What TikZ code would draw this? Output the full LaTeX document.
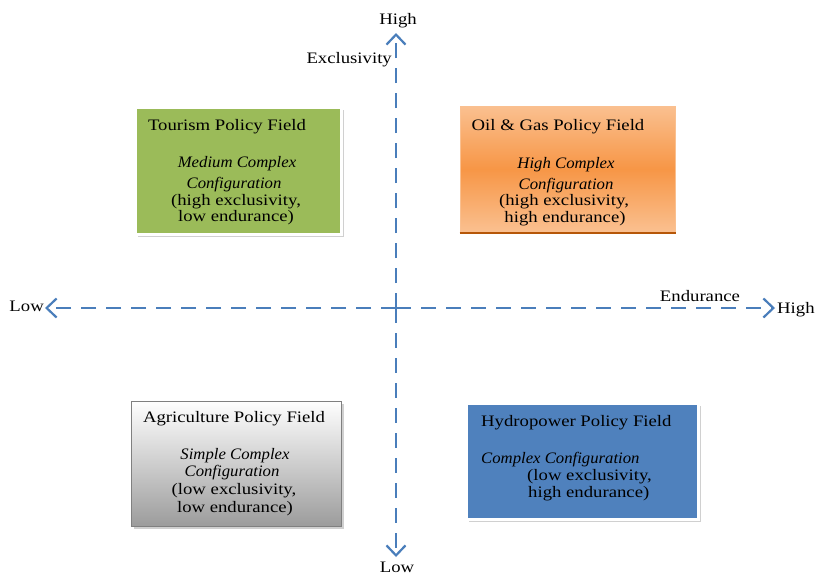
\documentclass[tikz,border=0pt]{standalone}
\usepackage{fontspec}
\setmainfont{Liberation Serif}[FakeStretch=1.17]
\newfontfamily\itfam{Liberation Serif}[FakeStretch=1.045]
\usetikzlibrary{arrows.meta,shadows}
\definecolor{axisblue}{HTML}{4A7EBB}
\definecolor{tgreen}{HTML}{9BBB59}
\definecolor{hblue}{HTML}{4F81BD}
\definecolor{orangeD}{HTML}{F79646}
\definecolor{orangeL}{HTML}{FAC090}
\definecolor{orangeB}{HTML}{B65708}
\definecolor{agray}{HTML}{9C9C9C}
\begin{document}
\begin{tikzpicture}[x=1pt,y=-1pt,
  every node/.style={inner sep=0pt,font=\fontsize{16}{17}\selectfont},
  axis/.style={draw=axisblue,line width=2pt,dash pattern=on 15pt off 10pt,
    -{Straight Barb[length=10pt,width=19pt,line width=2.2pt]},shorten >=0pt},
  field/.style={rectangle,minimum width=#1,anchor=north west},
  shade/.style={drop shadow={shadow xshift=2.5pt,shadow yshift=-3pt,opacity=0.3,fill=black!60}},
  ltxt/.style={anchor=base},
  itx/.style={anchor=base,font=\fontsize{16}{17}\selectfont\itfam\itshape}]
\useasboundingbox (0,0) rectangle (818,574);
\fill[white] (0,0) rectangle (818,574);
% boxes
\node[field=206pt,minimum height=127pt,fill=tgreen,draw=white,line width=2.5pt,shade] (tour) at (134,106) {};
\node[field=215pt,minimum height=126pt,top color=orangeL,bottom color=orangeL,middle color=orangeD,draw=orangeL,line width=1pt] (oil) at (459.5,105.5) {};
\draw[orangeB,line width=2pt] (oil.south west) -- (oil.south east);
\node[field=210pt,minimum height=125pt,top color=white,bottom color=agray,draw=gray,line width=1pt,shade] (agri) at (130.5,400.5) {};
\node[field=232pt,minimum height=116pt,fill=hblue,draw=white,line width=2.5pt,shade] (hydro) at (465,402) {};
% axes
\coordinate (vtop) at (396,33);
\coordinate (vbot) at (396,557);
\coordinate (hl) at (45,308);
\coordinate (hr) at (775,308);
\coordinate (c) at (396,308);
\draw[axis] (c) -- (vtop);
\draw[axis] (c) -- (vbot);
\draw[axis] (c) -- (hl);
\draw[axis] (c) -- (hr);
\node[ltxt] (hh) at (398,24) {High};
\node[ltxt] (vl) at (397,572) {Low};
\node[anchor=base east] (ex) at (392,63) {Exclusivity};
\node[anchor=base east] (hlo) at (44,311) {Low};
\node[anchor=base west] (hhi) at (777,313) {High};
\node[ltxt] (en) at (700,301) {Endurance};
% tourism text
\node[ltxt] (t1) at (227,130) {Tourism Policy Field};
\node[itx] (t2) at (237,167) {Medium Complex};
\node[itx] (t3) at (234,188) {Configuration};
\node[ltxt] (t4) at (236,205) {(high exclusivity,};
\node[ltxt] (t5) at (236,221) {low endurance)};
% oil text
\node[ltxt] (o1) at (558,130) {Oil \& Gas Policy Field};
\node[itx] (o2) at (566,168) {High Complex};
\node[itx] (o3) at (566,189) {Configuration};
\node[ltxt] (o4) at (564,205) {(high exclusivity,};
\node[ltxt] (o5) at (565,222) {high endurance)};
% agriculture text
\node[ltxt] (a1) at (234,422) {Agriculture Policy Field};
\node[itx] (a2) at (235,459) {Simple Complex};
\node[itx] (a3) at (232,476) {Configuration};
\node[ltxt] (a4) at (234,494) {(low exclusivity,};
\node[ltxt] (a5) at (235,512) {low endurance)};
% hydro text
\node[anchor=base west] (h1) at (481,426) {Hydropower Policy Field};
\node[itx,anchor=base west] (h2) at (481,463) {Complex Configuration};
\node[anchor=base west] (h3) at (527,480) {(low exclusivity,};
\node[anchor=base west] (h4) at (528,497) {high endurance)};
\end{tikzpicture}
\end{document}
